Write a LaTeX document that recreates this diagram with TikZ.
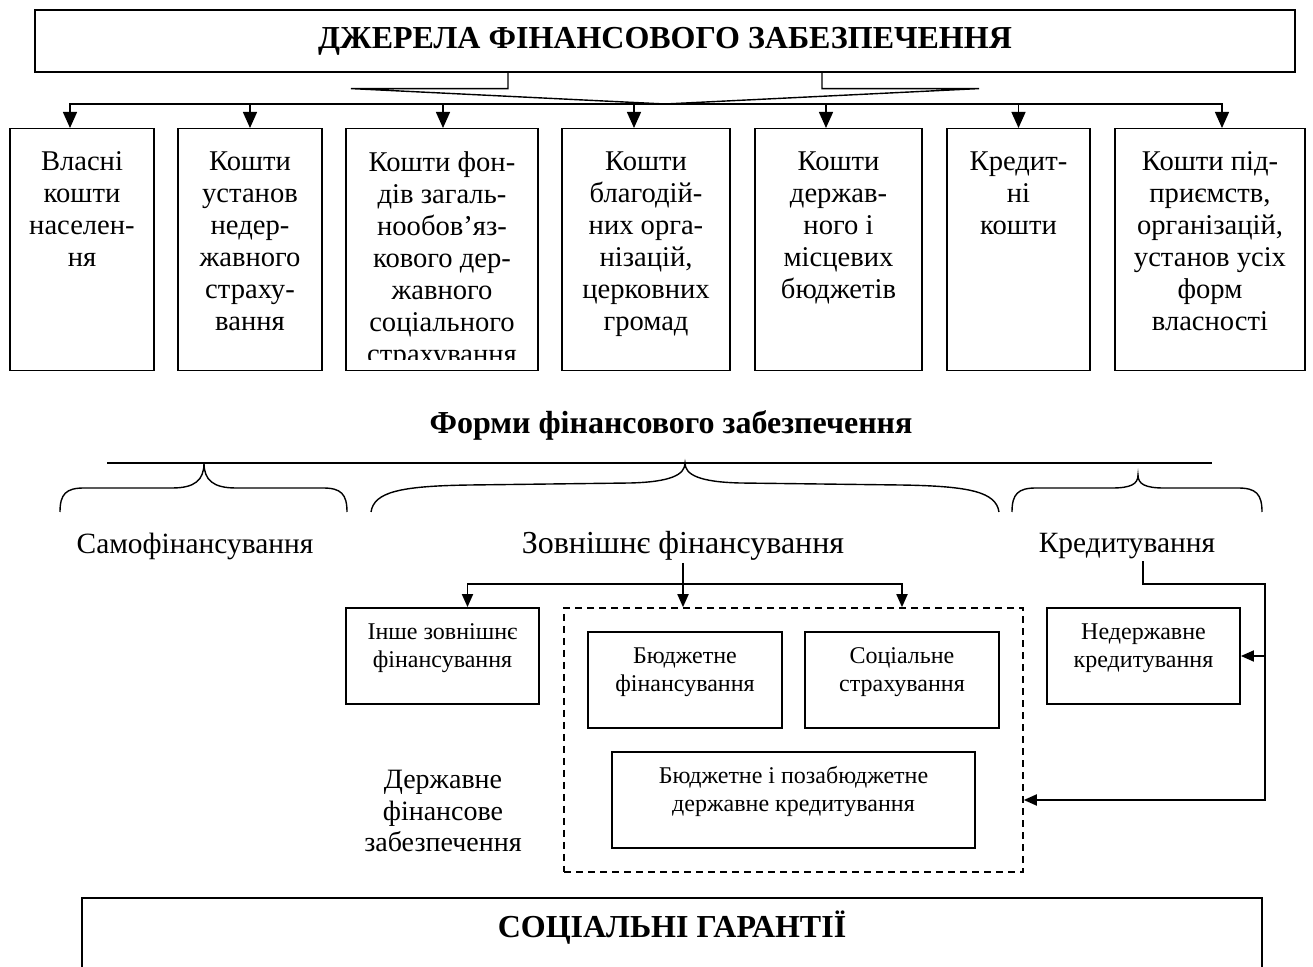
\documentclass[tikz,border=0pt]{standalone}
\usepackage{fontspec}
\setmainfont{Liberation Serif}
\usetikzlibrary{arrows.meta,positioning}

\begin{document}
\begin{tikzpicture}[
  x=0.5pt,
  y=-0.5pt,
  source/.style={
    draw,
    line width=0.7pt,
    anchor=north,
    inner sep=0pt,
    minimum height=121pt
  },
  sourcetext/.style={anchor=north, align=center, inner sep=0pt, font=\fontsize{14.3}{16}\selectfont},
  form/.style={font=\fontsize{14.7}{15.85}\selectfont, align=center, inner sep=1pt},
  kind/.style={
    draw,
    line width=0.9pt,
    align=center,
    inner sep=0pt,
    minimum width=97pt,
    minimum height=48pt,
    text depth=10.6pt,
    font=\fontsize{12}{14}\selectfont
  },
  heading/.style={font=\fontsize{16}{18}\selectfont\bfseries},
  arrow/.style={-{Triangle[length=8pt,width=7pt]}, line width=0.7pt},
  smallarrow/.style={-{Triangle[length=6.5pt,width=5.5pt]}, line width=0.9pt},
  brace/.style={line width=0.7pt}
]
\useasboundingbox (0,0) rectangle (1313,967);

% sources of financing
\node[draw, heading, line width=0.6pt, minimum width=630pt, minimum height=31pt] (sources) at (665,41) {ДЖЕРЕЛА ФІНАНСОВОГО ЗАБЕЗПЕЧЕННЯ};
\coordinate (hub) at (665,104);
\draw[line width=0.7pt] ([xshift=-78.5pt]sources.south) -- ++(0,16) -- ++(-157,0) -- (hub);
\draw[line width=0.7pt] ([xshift=78.5pt]sources.south) -- ++(0,16) -- ++(157,0) -- (hub);

\node[source, minimum width=72pt] (own) at (82,128) {};
\node[source, minimum width=72pt] (insurers) at (250,128) {};
\node[source, minimum width=96pt] (funds) at (442,128) {};
\node[source, minimum width=84pt] (charity) at (646,128) {};
\node[source, minimum width=83.5pt] (budgets) at (838.5,128) {};
\node[source, minimum width=71.5pt] (credit) at (1018.5,128) {};
\node[source, minimum width=95pt] (firms) at (1210,128) {};

\node[sourcetext] (owntext) at ([yshift=-11.5pt]own.north) {Власні\\кошти\\населен-\\ня};
\node[sourcetext] (insurerstext) at ([yshift=-11.5pt]insurers.north) {Кошти\\установ\\недер-\\жавного\\страху-\\вання};
\begin{scope}
  \clip (funds.north west) rectangle ([yshift=6pt]funds.south east);
  \node[sourcetext] (fundstext) at ([yshift=-11.5pt]funds.north) {Кошти фон-\\дів загаль-\\нообов’яз-\\кового дер-\\жавного\\соціального\\страхування};
\end{scope}
\node[sourcetext] (charitytext) at ([yshift=-11.5pt]charity.north) {Кошти\\благодій-\\них орга-\\нізацій,\\церковних\\громад};
\node[sourcetext] (budgetstext) at ([yshift=-11.5pt]budgets.north) {Кошти\\держав-\\ного і\\місцевих\\бюджетів};
\node[sourcetext] (credittext) at ([yshift=-11.5pt]credit.north) {Кредит-\\ні\\кошти};
\node[sourcetext] (firmstext) at ([yshift=-11.5pt]firms.north) {Кошти під-\\приємств,\\організацій,\\установ усіх\\форм\\власності};

\foreach \src/\shift in {own/-6, insurers/0, funds/0.5, charity/-6, budgets/-6.25, credit/0, firms/6}
  \draw[arrow] (hub) -| ([xshift=\shift pt]\src.north);

% forms of financing
\node[heading] (forms) at (671,425) {Форми фінансового забезпечення};
\draw[line width=0.7pt] (107,463) -- (1212,463);

\draw[brace] (60,512) .. controls (60,494) and (66,488) .. (84,488) -- (172,488)
  .. controls (195,488) and (204,480) .. (204,463)
  .. controls (204,480) and (213,488) .. (236,488) -- (323,488)
  .. controls (341,488) and (347,494) .. (347,512);
\draw[brace] (371,512) .. controls (374,492) and (400,486) .. (470,485) -- (630,483)
  .. controls (670,482) and (685,475) .. (685,463)
  .. controls (685,475) and (700,482) .. (740,483) -- (900,485)
  .. controls (970,486) and (996,492) .. (999,512);
\draw[brace] (1012,512) .. controls (1012,494) and (1018,488) .. (1036,488) -- (1112,488)
  .. controls (1131,488) and (1138,484) .. (1138,475)
  .. controls (1138,484) and (1145,488) .. (1164,488) -- (1238,488)
  .. controls (1256,488) and (1262,494) .. (1262,512);

\node[form] (self) at (195,546) {Самофінансування};
\node[form, font=\fontsize{16}{18}\selectfont] (external) at (683,546) {Зовнішнє фінансування};
\node[form] (lending) at (1127,546) {Кредитування};

\node[draw, dash pattern=on 3.5pt off 2.5pt, line width=0.8pt, minimum width=229.5pt, minimum height=132pt] (state) at (793.5,740) {};
\node[kind, minimum width=96.5pt] (other) at (442.5,656) {Інше зовнішнє\\фінансування};
\node[kind] (budgetary) at (685,680) {Бюджетне\\фінансування};
\node[kind] (insurance) at (902,680) {Соціальне\\страхування};
\node[kind, minimum width=181.5pt] (statecredit) at (793.5,800) {Бюджетне і позабюджетне\\державне кредитування};
\node[kind, minimum width=96.5pt] (private) at (1143.5,656) {Недержавне\\кредитування};
\node[form, font=\fontsize{14}{15.85}\selectfont] (statelabel) at (443,811) {Державне\\фінансове\\забезпечення};

\coordinate (split) at (685,584);
\draw[smallarrow] (external.south) -- (external.south |- state.north);
\draw[smallarrow] (external.south |- split) -| ([xshift=12.5pt]other.north);
\draw[smallarrow] (external.south |- split) -| (insurance.north |- state.north);

\coordinate (turn) at (1265,584);
\draw[smallarrow] ([xshift=8pt]lending.south) |- (turn) |- ([yshift=-30pt]state.east);
\draw[smallarrow] (private.east -| turn) -- (private.east);

% social guarantees
\node[draw, line width=1pt, anchor=north, minimum width=590pt, minimum height=50pt] (guarantees) at (672,897) {};
\node[heading] (guaranteestitle) at (672,928) {СОЦІАЛЬНІ ГАРАНТІЇ};
\end{tikzpicture}
\end{document}
